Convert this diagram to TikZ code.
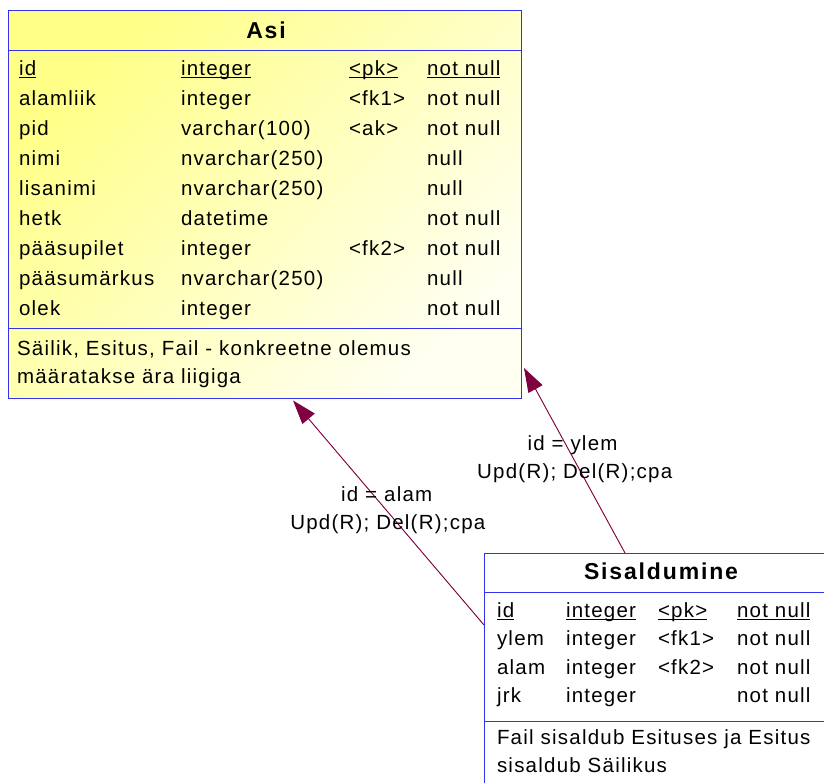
\documentclass[tikz,border=0pt]{standalone}
\usepackage{fontspec}
\setmainfont{Liberation Sans}[LetterSpace=6]
\newfontfamily\titlefont{Liberation Sans}[LetterSpace=8]
\newcommand\myul[1]{\setbox0\hbox{#1}\rlap{\rule[-2.5pt]{\wd0}{1pt}}\box0}
\usetikzlibrary{arrows.meta,calc}
\definecolor{bordblue}{RGB}{50,50,235}
\definecolor{relred}{RGB}{128,0,64}
\definecolor{yelA}{RGB}{255,255,135}
\definecolor{yelB}{RGB}{255,255,242}
\tikzset{
  rowtext/.style={anchor=base west, inner sep=0pt, outer sep=0pt, font=\fontsize{20.5}{24}\selectfont},
  titletext/.style={anchor=base, inner sep=0pt, outer sep=0pt, font=\titlefont\fontsize{23}{27}\selectfont\bfseries},
  lbl/.style={anchor=base, inner sep=0pt, outer sep=0pt, font=\fontsize{20.5}{24}\selectfont},
  tablebox/.style={draw=bordblue, line width=1pt, anchor=north west, inner sep=0pt, outer sep=0pt, rectangle},
  sepline/.style={draw=bordblue, line width=1pt},
  rel/.style={draw=relred, line width=0.9pt, -{Triangle[length=24pt,width=16pt]}, fill=relred}
}
\begin{document}
\begin{tikzpicture}[x=1pt, y=-1pt]
\useasboundingbox (0,0) rectangle (824,783);
\clip (0,0) rectangle (824,783);
\fill[white] (0,0) rectangle (824,783);

% Asi table
\node[tablebox, minimum width=513pt, minimum height=387pt,
      top color=yelA, bottom color=yelB, shading angle=45] (asi) at (8,11) {};
\draw[sepline] ($(asi.north west)+(0,40)$) -- ($(asi.north east)+(0,40)$);
\draw[sepline] ($(asi.north west)+(0,318)$) -- ($(asi.north east)+(0,318)$);
\node[titletext] (asi-t) at (266,38.5) {Asi};
\node[rowtext] (asi-n0) at (19,76) {\myul{id}};
\node[rowtext] (asi-y0) at (181,76) {\myul{integer}};
\node[rowtext] (asi-k0) at (349,76) {\myul{<pk>}};
\node[rowtext] (asi-z0) at (427,76) {\myul{not null}};
\foreach \ca/\cb/\cc/\cd [count=\i] in {
  alamliik/integer/<fk1>/not null,
  pid/varchar(100)/<ak>/not null,
  nimi/nvarchar(250)//null,
  lisanimi/nvarchar(250)//null,
  hetk/datetime//not null,
  pääsupilet/integer/<fk2>/not null,
  pääsumärkus/nvarchar(250)//null,
  olek/integer//not null}{
  \pgfmathsetmacro\yy{76+30*\i}
  \node[rowtext] (asi-n\i) at (19,\yy) {\ca};
  \node[rowtext] (asi-y\i) at (181,\yy) {\cb};
  \node[rowtext] (asi-k\i) at (349,\yy) {\cc};
  \node[rowtext] (asi-z\i) at (427,\yy) {\cd};
}
\node[rowtext] (asi-c1) at (17,355.5) {Säilik, Esitus, Fail - konkreetne olemus};
\node[rowtext] (asi-c2) at (17,383.5) {määratakse ära liigiga};

% Sisaldumine table
\node[tablebox, fill=white, minimum width=350pt, minimum height=260pt] (sis) at (484,553) {};
\draw[sepline] ($(sis.north west)+(0,39)$) -- ($(sis.north east)+(0,39)$);
\draw[sepline] ($(sis.north west)+(0,168)$) -- ($(sis.north east)+(0,168)$);
\node[titletext] (sis-t) at (661,579) {Sisaldumine};
\node[rowtext] (sis-n0) at (497,617) {\myul{id}};
\node[rowtext] (sis-y0) at (566,617) {\myul{integer}};
\node[rowtext] (sis-k0) at (658,617) {\myul{<pk>}};
\node[rowtext] (sis-z0) at (737,617) {\myul{not null}};
\foreach \ca/\cc [count=\i] in {ylem/<fk1>, alam/<fk2>, jrk/}{
  \pgfmathsetmacro\yy{617+28.5*\i}
  \node[rowtext] (sis-n\i) at (497,\yy) {\ca};
  \node[rowtext] (sis-y\i) at (566,\yy) {integer};
  \node[rowtext] (sis-k\i) at (658,\yy) {\cc};
  \node[rowtext] (sis-z\i) at (737,\yy) {not null};
}
\node[rowtext] (sis-c1) at (497,744) {Fail sisaldub Esituses ja Esitus};
\node[rowtext] (sis-c2) at (497,772) {sisaldub Säilikus};

% relationships
\draw[rel] ($(sis.north west)+(0,72)$) -- ($(asi.south west)!0.5556!(asi.south east)+(0,2.5)$);
\draw[rel] ($(sis.north west)+(141,0)$) -- ($(asi.south east)+(3,-30)$);

\node[lbl] (r1a) at (386.7,501.7) {id = alam};
\node[lbl] (r1b) at (387.8,529) {Upd(R); Del(R);cpa};
\node[lbl] (r2a) at (572.5,450.7) {id = ylem};
\node[lbl] (r2b) at (574.7,478) {Upd(R); Del(R);cpa};
\end{tikzpicture}
\end{document}
